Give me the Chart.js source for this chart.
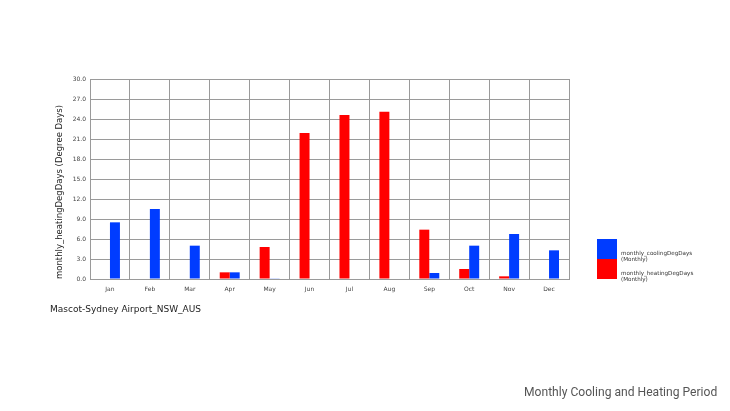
<!DOCTYPE html>
<html>
<head>
<meta charset="utf-8">
<script src="https://cdn.jsdelivr.net/npm/chart.js@4/dist/chart.umd.min.js"></script>
<style>
  body { margin: 0; background: #fff; }
  #wrap { position: relative; width: 730px; height: 411px; }
  #station { position: absolute; left: 50px; top: 304px; font: 9px 'DejaVu Sans', sans-serif; color: #222; }
  #caption { position: absolute; left: 524px; top: 385px; font: 12.1px Roboto, sans-serif; color: #555; }
  #legend { position: absolute; left: 597px; top: 239px; }
  .item { position: relative; height: 20px; }
  .box { position: absolute; left: 0; top: 0; width: 20px; height: 20px; }
  .lbl { position: absolute; left: 24px; top: 11px; font: 5.6px 'DejaVu Sans', sans-serif; line-height: 6px; color: #333; white-space: nowrap; }
</style>
</head>
<body>
<div id="wrap">
  <canvas id="my-chart" width="730" height="411"></canvas>
  <div id="legend"></div>
  <div id="station">Mascot-Sydney Airport_NSW_AUS</div>
  <div id="caption">Monthly Cooling and Heating Period</div>
</div>
<script>
'use strict';

let months = ['Jan', 'Feb', 'Mar', 'Apr', 'May', 'Jun', 'Jul', 'Aug', 'Sep', 'Oct', 'Nov', 'Dec'];
let heatingDays = [0, 0, 0, 1.0, 4.8, 21.9, 24.6, 25.1, 7.4, 1.5, 0.4, 0];
let coolingDays = [8.5, 10.5, 5.0, 1.0, 0.1, 0, 0, 0, 0.9, 5.0, 6.75, 4.3];
let yTicks = [0, 3, 6, 9, 12, 15, 18, 21, 24, 27, 30];

let canvasElem = document.getElementById('my-chart');

Chart.defaults.font.family = "'DejaVu Sans', sans-serif";
Chart.defaults.font.size = 6;
Chart.defaults.color = '#444';

function renderChart() {
  let chartObj = {
    type: 'bar',
    data: {
      labels: months,
      datasets: [{
        label: ['monthly_heatingDegDays', '(Monthly)'],
        data: heatingDays,
        backgroundColor: '#ff0000',
        borderWidth: 0
      },
      {
        label: ['monthly_coolingDegDays', '(Monthly)'],
        data: coolingDays,
        backgroundColor: '#003cff',
        borderWidth: 0
      }]
    },
    options: {
      responsive: false,
      animation: false,
      categoryPercentage: 0.5,
      barPercentage: 1.0,
      layout: { padding: { left: 55, top: 79, right: 161, bottom: 0 } },
      scales: {
        x: {
          grid: { color: '#9a9a9a', drawTicks: false, offset: true },
          border: { color: '#9a9a9a' },
          ticks: { padding: 7, maxRotation: 0 },
          afterFit: function (scale) { scale.height = 132; }
        },
        y: {
          min: 0,
          max: 30,
          afterBuildTicks: function (scale) { scale.ticks = yTicks.map(v => ({ value: v })); },
          ticks: { padding: 4, callback: v => v.toFixed(1) },
          grid: { color: '#9a9a9a', drawTicks: false },
          border: { color: '#9a9a9a' },
          title: {
            display: true,
            text: 'monthly_heatingDegDays (Degree Days)',
            font: { size: 8.5 },
            color: '#222',
            align: 'start',
            padding: 0
          },
          afterFit: function (scale) { scale.width = 35; }
        }
      },
      plugins: {
        legend: { display: false },
        tooltip: { enabled: false }
      }
    }
  };

  let chart = new Chart(canvasElem, chartObj);

  // legend on the right, cooling on top
  let legendElem = document.getElementById('legend');
  let sets = chart.data.datasets.slice().reverse();
  for (let i = 0; i < sets.length; i++) {
    let item = document.createElement('div');
    item.className = 'item';
    let box = document.createElement('div');
    box.className = 'box';
    box.style.background = sets[i].backgroundColor;
    let lbl = document.createElement('div');
    lbl.className = 'lbl';
    lbl.innerHTML = sets[i].label.join('<br>');
    item.appendChild(box);
    item.appendChild(lbl);
    legendElem.appendChild(item);
  }
}

renderChart();
</script>
</body>
</html>
